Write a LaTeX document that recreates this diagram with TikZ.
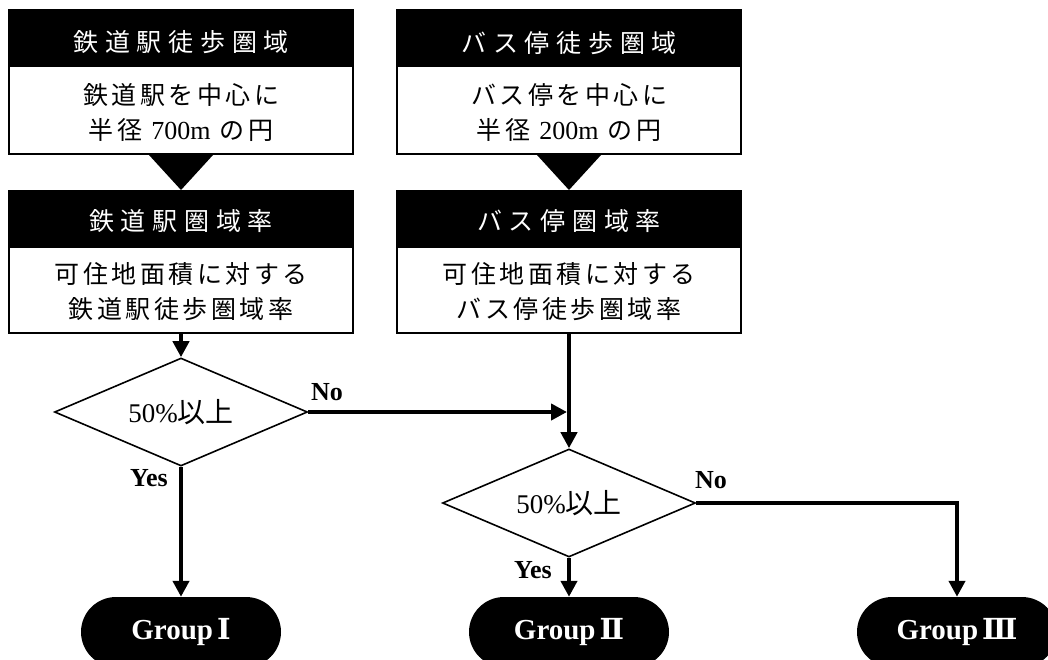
\documentclass[tikz,border=0pt]{standalone}
\usepackage{fontspec}
\setmainfont{Liberation Serif}
\newfontfamily\jp{Noto Sans CJK JP}
\newfontfamily\jphead[LetterSpace=27]{Noto Sans CJK JP}
\newfontfamily\jpbody[LetterSpace=14]{Noto Sans CJK JP}
\newfontfamily\rnum{DejaVu Serif}
\newcommand{\latnum}[1]{{\fontsize{26pt}{35pt}\rmfamily #1}}
\usetikzlibrary{shapes.geometric,arrows.meta}
\begin{document}
\begin{tikzpicture}[x=1pt,y=-1pt,
  headbox/.style={rectangle,fill=black,draw=black,line width=2pt,minimum width=344pt,minimum height=56pt,inner sep=0pt},
  headtext/.style={text=white,inner sep=0pt,font=\fontsize{25pt}{30pt}\jphead},
  bodybox/.style={rectangle,draw=black,fill=white,line width=2pt,minimum width=344pt,minimum height=88pt,inner sep=0pt},
  bodytext/.style={inner sep=0pt,align=center,font=\fontsize{25pt}{35pt}\jpbody},
  decision/.style={diamond,aspect=2.34,draw=black,line width=1.6pt,minimum width=253pt,minimum height=108pt,inner sep=0pt,font=\fontsize{27pt}{30pt}\selectfont},
  terminal/.style={rectangle,rounded corners=35pt,fill=black,minimum width=200pt,minimum height=70pt,text=white,font=\fontsize{29pt}{32pt}\selectfont\bfseries},
  flow/.style={line width=4pt,-{Triangle[length=16pt,width=16pt]}},
  answer/.style={font=\fontsize{26pt}{30pt}\selectfont\bfseries,inner sep=0pt}
]
\useasboundingbox (0,0) rectangle (1048,659);

% left column
\node[bodybox,label={[bodytext,yshift=-2.5pt]center:鉄道駅を中心に\\半径 \latnum{700m} の円}] (ab) at (181,110) {};
\node[headbox,label={[headtext,yshift=-4.5pt]center:鉄道駅徒歩圏域}] (ah) at (181,38) {};
\node[bodybox,minimum height=86pt,label={[bodytext,yshift=-1.5pt]center:可住地面積に対する\\鉄道駅徒歩圏域率}] (ab2) at (181,290) {};
\node[headbox,label={[headtext,yshift=-2.5pt]center:鉄道駅圏域率}] (ah2) at (181,219) {};

% right column
\node[bodybox,label={[bodytext,yshift=-2.5pt]center:バス停を中心に\\半径 \latnum{200m} の円}] (bb) at (569,110) {};
\node[headbox,label={[headtext,yshift=-5pt]center:バス停徒歩圏域}] (bh) at (569,38) {};
\node[bodybox,minimum height=86pt,label={[bodytext,yshift=-1.5pt]center:可住地面積に対する\\バス停徒歩圏域率}] (bb2) at (569,290) {};
\node[headbox,label={[headtext,yshift=-2.5pt]center:バス停圏域率}] (bh2) at (569,219) {};

% triangles
\fill ([xshift=-32pt]ab.south) -- ([xshift=32pt]ab.south) -- (ah2.north) -- cycle;
\fill ([xshift=-32pt]bb.south) -- ([xshift=32pt]bb.south) -- (bh2.north) -- cycle;

% decisions
\node[decision] (d1) at (181,412) {50\%{\fontsize{28pt}{30pt}\jp 以上}};
\node[decision] (d2) at (569,503) {50\%{\fontsize{28pt}{30pt}\jp 以上}};

% terminals
\node[terminal] (g1) at (181,632) {Group\hspace{4pt}{\rnum\bfseries Ⅰ}};
\node[terminal] (g2) at (569,632) {Group\hspace{4pt}{\rnum\bfseries Ⅱ}};
\node[terminal] (g3) at (957,632) {Group\hspace{4pt}{\rnum\bfseries Ⅲ}};

% connectors
\coordinate (j) at (bb2.south |- d1.east);
\draw[flow] (ab2.south) -- (d1.north);
\draw[flow] (d1.east) -- ([xshift=-2pt]j);
\draw[flow] (bb2.south) -- (d2.north);
\draw[flow] (d1.south) -- (g1.north);
\draw[flow] (d2.south) -- (g2.north);
\draw[flow] (d2.east) -| (g3.north);

% labels
\node[answer] (no1) at (327,392) {No};
\node[answer] (yes1) at (149,478) {Yes};
\node[answer] (no2) at (711,480) {No};
\node[answer] (yes2) at (533,570) {Yes};
\end{tikzpicture}
\end{document}
